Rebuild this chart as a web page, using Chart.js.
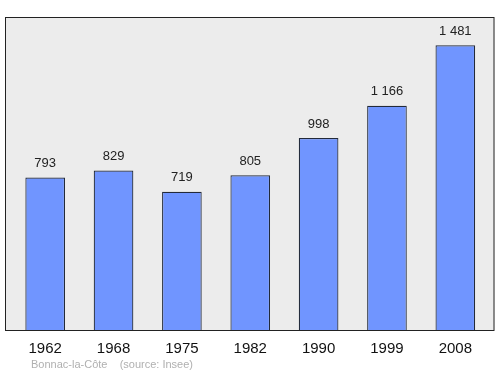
<!DOCTYPE html>
<html>
<head>
<meta charset="utf-8">
<script src="https://cdn.jsdelivr.net/npm/chart.js@4"></script>
<style>
  html, body { margin: 0; padding: 0; background: #fff; }
  #wrap { width: 500px; height: 374px; }
</style>
</head>
<body>
<div id="wrap"><canvas id="popChart" width="500" height="374"></canvas></div>
<script>
// Population by census year
const years = ['1962', '1968', '1975', '1982', '1990', '1999', '2008'];
const population = [793, 829, 719, 805, 998, 1166, 1481];
const footerText = 'Bonnac-la-Côte    (source: Insee)';

const FONT = "'Liberation Sans', Arial, sans-serif";

// thousands with a space, like "1 481"
function fmt(v) {
  return String(v).replace(/\B(?=(\d{3})+(?!\d))/g, ' ');
}

// grey panel with dark frame behind the bars
const panelPlugin = {
  id: 'panel',
  beforeDraw(chart) {
    const { ctx, chartArea: a } = chart;
    ctx.save();
    ctx.fillStyle = '#ececec';
    ctx.fillRect(a.left - 6, a.top, a.right - a.left + 11, a.bottom - a.top);
    ctx.restore();
  },
  afterDatasetsDraw(chart) {
    const { ctx, chartArea: a } = chart;
    ctx.save();
    ctx.strokeStyle = '#222';
    ctx.lineWidth = 1;
    ctx.strokeRect(a.left - 6 + 0.5, a.top + 0.5, a.right - a.left + 11 - 1, a.bottom - a.top);
    ctx.restore();
  },
};

// value above each bar + source line at the bottom
const labelPlugin = {
  id: 'labels',
  afterDatasetsDraw(chart) {
    const { ctx } = chart;
    const meta = chart.getDatasetMeta(0);
    ctx.save();
    ctx.font = '13px ' + FONT;
    ctx.fillStyle = '#222';
    ctx.textAlign = 'center';
    ctx.textBaseline = 'middle';
    meta.data.forEach((bar, i) => {
      ctx.fillText(fmt(population[i]), bar.x, bar.y - 14);
    });
    ctx.font = '11px ' + FONT;
    ctx.fillStyle = '#b0b0b0';
    ctx.textAlign = 'left';
    ctx.fillText(footerText, 31, 365);
    ctx.restore();
  },
};

new Chart(document.getElementById('popChart'), {
  type: 'bar',
  data: {
    labels: years,
    datasets: [{
      data: population,
      backgroundColor: '#7095ff',
      borderColor: '#222a3a',
      borderWidth: 1.2,
      borderSkipped: 'bottom',
      categoryPercentage: 1,
      barPercentage: 0.58,
    }],
  },
  options: {
    responsive: false,
    animation: false,
    layout: { padding: { left: 11, right: 10.5, top: 17, bottom: 0 } },
    plugins: {
      legend: { display: false },
      tooltip: { enabled: false },
    },
    scales: {
      x: {
        grid: { display: false },
        border: { display: false },
        ticks: { color: '#111', font: { family: FONT, size: 15 }, padding: 2 },
        afterFit(axis) { axis.height = 44; },
      },
      y: {
        display: false,
        min: 0,
        max: 1628,
      },
    },
  },
  plugins: [panelPlugin, labelPlugin],
});
</script>
</body>
</html>
